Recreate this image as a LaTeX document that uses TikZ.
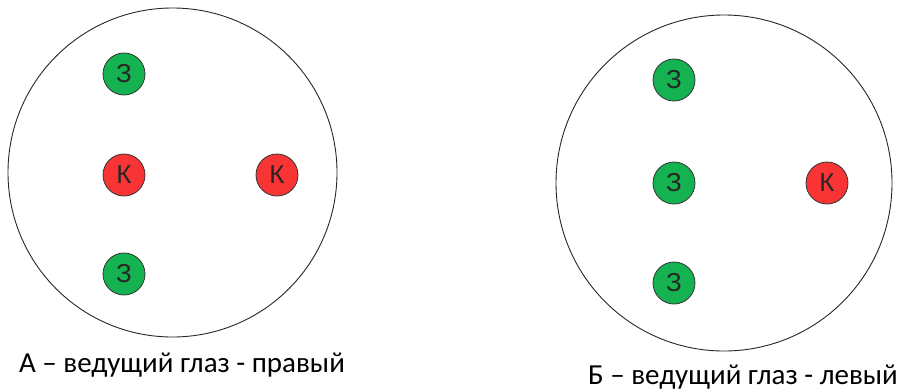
\documentclass[tikz,border=0pt]{standalone}
\usepackage{fontspec}
\setmainfont{Carlito}
\newfontfamily\dotfont{Liberation Sans}
\usepackage{xcolor}
\usetikzlibrary{positioning}
\definecolor{greendot}{RGB}{20,178,80}
\definecolor{reddot}{RGB}{248,52,52}

\begin{document}
\begin{tikzpicture}[
  x=1pt, y=-1pt,
  eye/.style={circle, draw=black!85, line width=0.9pt, inner sep=0pt},
  dot/.style={circle, draw=black!80, line width=0.8pt, minimum size=42pt,
    inner sep=0pt, text=black!85, font=\dotfont\fontsize{26}{26}\selectfont},
  zdot/.style={dot, fill=greendot},
  kdot/.style={dot, fill=reddot},
  note/.style={font=\fontsize{29}{32}\selectfont, anchor=base}
]
  \useasboundingbox (0,0) rectangle (901,391);

  % eye A
  \node[eye, minimum size=329pt] (eyeA) at (172.5,172.5) {};
  \node[zdot] (zA1) at (124,74) {З};
  \node[kdot] (kA1) at (124,175) {К};
  \node[kdot] (kA2) at (277,175) {К};
  \node[zdot] (zA2) at (124,274) {З};
  \node[note] (noteA) at (182,372) {А – ведущий глаз - правый};

  % eye B
  \node[eye, minimum size=336pt] (eyeB) at (724,183) {};
  \node[zdot] (zB1) at (674,80) {З};
  \node[zdot] (zB2) at (674,183) {З};
  \node[kdot] (kB1) at (827,183) {К};
  \node[zdot] (zB3) at (674,283) {З};
  \node[note] (noteB) at (743,384) {Б – ведущий глаз - левый};
\end{tikzpicture}
\end{document}
